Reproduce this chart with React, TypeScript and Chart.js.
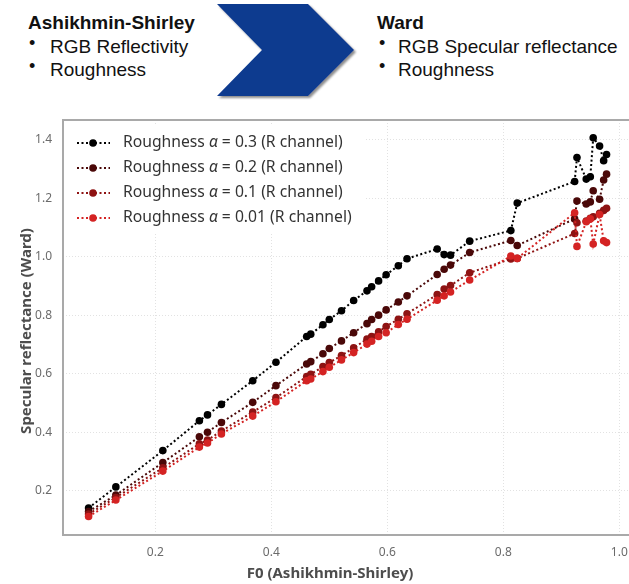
import React, { useEffect, useRef } from 'react';
import { Chart, registerables } from 'chart.js';
Chart.register(...registerables);

// F0 (Ashikhmin-Shirley) for each material, shared by all series
const f0 = [0.085, 0.132, 0.213, 0.276, 0.290, 0.314, 0.368, 0.408, 0.461, 0.468, 0.489, 0.500, 0.521, 0.542, 0.565, 0.573, 0.585, 0.598, 0.619, 0.634, 0.686, 0.698, 0.709, 0.742, 0.813, 0.824, 0.923, 0.927, 0.943, 0.950, 0.955, 0.966, 0.973, 0.978];

// Specular reflectance (Ward), R channel
const wardA03 = [0.142, 0.214, 0.338, 0.440, 0.460, 0.496, 0.577, 0.640, 0.728, 0.736, 0.768, 0.786, 0.816, 0.851, 0.884, 0.898, 0.918, 0.939, 0.970, 0.994, 1.027, 1.008, 1.006, 1.054, 1.090, 1.184, 1.258, 1.340, 1.266, 1.274, 1.407, 1.379, 1.329, 1.350];
const wardA02 = [0.130, 0.186, 0.297, 0.385, 0.401, 0.434, 0.503, 0.560, 0.634, 0.642, 0.669, 0.687, 0.713, 0.741, 0.772, 0.786, 0.801, 0.819, 0.846, 0.867, 0.940, 0.958, 0.972, 1.015, 1.056, 1.039, 1.130, 1.191, 1.181, 1.188, 1.226, 1.197, 1.263, 1.283];
const wardA01 = [0.121, 0.178, 0.279, 0.361, 0.374, 0.405, 0.470, 0.519, 0.591, 0.599, 0.625, 0.639, 0.663, 0.689, 0.719, 0.728, 0.744, 0.762, 0.787, 0.806, 0.871, 0.890, 0.902, 0.946, 0.993, 0.995, 1.080, 1.117, 1.123, 1.132, 1.137, 1.149, 1.159, 1.166];
const wardA001 = [0.113, 0.169, 0.268, 0.350, 0.364, 0.395, 0.456, 0.505, 0.577, 0.583, 0.608, 0.623, 0.648, 0.673, 0.702, 0.712, 0.728, 0.741, 0.769, 0.787, 0.852, 0.867, 0.880, 0.921, 1.003, 0.995, 1.151, 1.036, 1.120, 1.130, 1.044, 1.145, 1.055, 1.049];

const roughness = ['0.3', '0.2', '0.1', '0.01'];
const seriesValues = [wardA03, wardA02, wardA01, wardA001];
const seriesColors = ['#000000', '#4a0808', '#8e1313', '#d42323'];

const xTicks = [0.2, 0.4, 0.6, 0.8, 1.0];
const yTicks = [0.2, 0.4, 0.6, 0.8, 1.0, 1.2, 1.4];

const xTitle = 'F0 (Ashikhmin-Shirley)';
const yTitle = 'Specular reflectance (Ward)';

const FONT = '"Noto Sans", "Open Sans", sans-serif';

const overlay = {
  id: 'overlay',
  afterDraw(chart: any) {
    const ctx = chart.ctx as CanvasRenderingContext2D;
    const a = chart.chartArea;
    ctx.save();
    // frame (top, left, bottom)
    ctx.strokeStyle = '#a9a9a9';
    ctx.lineWidth = 2;
    ctx.setLineDash([]);
    ctx.beginPath();
    ctx.moveTo(a.right + 2, a.top);
    ctx.lineTo(a.left, a.top);
    ctx.lineTo(a.left, a.bottom);
    ctx.lineTo(a.right + 2, a.bottom);
    ctx.stroke();

    // legend
    ctx.fillStyle = '#ffffff';
    ctx.fillRect(a.left + 3, a.top + 6, 300, 106);
    roughness.forEach((r, i) => {
      const y = a.top + 23 + 25 * i;
      const c = seriesColors[i];
      ctx.strokeStyle = c;
      ctx.lineWidth = 2;
      ctx.setLineDash([2, 2.5]);
      ctx.beginPath();
      ctx.moveTo(a.left + 14, y);
      ctx.lineTo(a.left + 47, y);
      ctx.stroke();
      ctx.setLineDash([]);
      ctx.fillStyle = c;
      ctx.beginPath();
      ctx.arc(a.left + 30, y, 3.8, 0, Math.PI * 2);
      ctx.fill();
      ctx.fillStyle = '#333333';
      ctx.textBaseline = 'middle';
      ctx.textAlign = 'left';
      let x = a.left + 60;
      ctx.font = `15.7px ${FONT}`;
      const p1 = 'Roughness ';
      ctx.fillText(p1, x, y);
      x += ctx.measureText(p1).width;
      ctx.font = `italic 15.7px ${FONT}`;
      ctx.fillText('\u03b1', x, y);
      x += ctx.measureText('\u03b1').width;
      ctx.font = `15.7px ${FONT}`;
      ctx.fillText(` = ${r} (R channel)`, x, y);
    });

    // axis titles
    ctx.fillStyle = '#4d4d4d';
    ctx.font = `bold 15px ${FONT}`;
    ctx.textAlign = 'center';
    ctx.textBaseline = 'middle';
    ctx.fillText(xTitle, 330, 574);
    ctx.translate(27, 331);
    ctx.rotate(-Math.PI / 2);
    ctx.fillText(yTitle, 0, 0);
    ctx.restore();
  },
};

function ChartCanvas() {
  const ref = useRef<HTMLCanvasElement | null>(null);
  useEffect(() => {
    if (!ref.current) return;
    const datasets = roughness.map((r, i) => ({
      label: `Roughness \u03b1 = ${r} (R channel)`,
      data: f0.map((x, j) => ({ x, y: seriesValues[i][j] })),
      showLine: true,
      borderColor: seriesColors[i],
      backgroundColor: seriesColors[i],
      pointBackgroundColor: seriesColors[i],
      pointBorderWidth: 0,
      pointRadius: 3.8,
      borderWidth: 2,
      borderDash: [2, 2.5],
      order: 4 - i,
    }));
    const chart = new Chart(ref.current, {
      type: 'scatter',
      data: { datasets },
      options: {
        responsive: false,
        animation: false,
        devicePixelRatio: 1,
        layout: { autoPadding: false, padding: { top: 120, left: 0, right: 0, bottom: 0 } },
        plugins: { legend: { display: false }, tooltip: { enabled: false }, title: { display: false } },
        scales: {
          x: {
            type: 'linear',
            min: 0.0409,
            max: 1.0167,
            afterBuildTicks: (s: any) => { s.ticks = xTicks.map((v) => ({ value: v })); },
            afterFit: (s: any) => { s.height = 49; s.paddingLeft = 0; s.paddingRight = 0; },
            grid: { color: '#e2e2e2', lineWidth: 1, drawTicks: false },
            border: { display: false, dash: [1, 2] },
            ticks: {
              color: '#6b6b6b',
              font: { family: FONT, size: 12 },
              padding: 10,
              maxRotation: 0,
              autoSkip: false,
              callback: (v: any) => Number(v).toFixed(1),
            },
          },
          y: {
            type: 'linear',
            min: 0.0496,
            max: 1.468,
            afterBuildTicks: (s: any) => { s.ticks = yTicks.map((v) => ({ value: v })); },
            afterFit: (s: any) => { s.width = 63; s.paddingTop = 0; s.paddingBottom = 0; },
            grid: { color: '#e2e2e2', lineWidth: 1, drawTicks: false },
            border: { display: false, dash: [1, 2] },
            ticks: {
              color: '#6b6b6b',
              font: { family: FONT, size: 12 },
              padding: 11,
              autoSkip: false,
              callback: (v: any) => Number(v).toFixed(1),
            },
          },
        },
      },
      plugins: [overlay],
    });
    return () => chart.destroy();
  }, []);
  return <canvas ref={ref} width={629} height={584} style={{ position: 'absolute', left: 0, top: 0, width: 629, height: 584 }} />;
}

const headFont = '"Liberation Sans", Arial, sans-serif';

function Line({ x, y, text, bold }: { x: number; y: number; text: string; bold?: boolean }) {
  return (
    <div style={{ position: 'absolute', left: x, top: y, font: `${bold ? 'bold ' : ''}19px ${headFont}`, lineHeight: '19px', whiteSpace: 'nowrap', color: '#111' }}>
      {text}
    </div>
  );
}

function Bullet({ x, y }: { x: number; y: number }) {
  return (
    <div style={{ position: 'absolute', left: x, top: y, font: `18px ${headFont}`, lineHeight: '18px', color: '#111' }}>{'\u2022'}</div>
  );
}

export default function App() {
  return (
    <div style={{ position: 'fixed', left: 0, top: 0, width: 629, height: 584, background: '#fff', overflow: 'hidden' }}>
      <Line x={28} y={13} text="Ashikhmin-Shirley" bold />
      <Bullet x={29} y={34} />
      <Line x={50} y={37} text="RGB Reflectivity" />
      <Bullet x={29} y={57} />
      <Line x={50} y={60} text="Roughness" />
      <svg width={629} height={110} style={{ position: 'absolute', left: 0, top: 0 }}>
        <defs>
          <filter id="sh" x="-10%" y="-10%" width="130%" height="130%">
            <feGaussianBlur in="SourceAlpha" stdDeviation="1.2" />
            <feOffset dx="1.5" dy="2" result="b" />
            <feComponentTransfer><feFuncA type="linear" slope="0.45" /></feComponentTransfer>
            <feMerge><feMergeNode /><feMergeNode in="SourceGraphic" /></feMerge>
          </filter>
        </defs>
        <polygon points="217,4 308,4 354,50 308,96 217,96 262,50" fill="#0f3b8f" filter="url(#sh)" />
      </svg>
      <Line x={377} y={13} text="Ward" bold />
      <Bullet x={379} y={34} />
      <Line x={398} y={37} text="RGB Specular reflectance" />
      <Bullet x={379} y={57} />
      <Line x={398} y={60} text="Roughness" />
      <div style={{ position: 'absolute', left: 0, top: 0, width: 629, height: 584 }}>
        <ChartCanvas />
      </div>
    </div>
  );
}
